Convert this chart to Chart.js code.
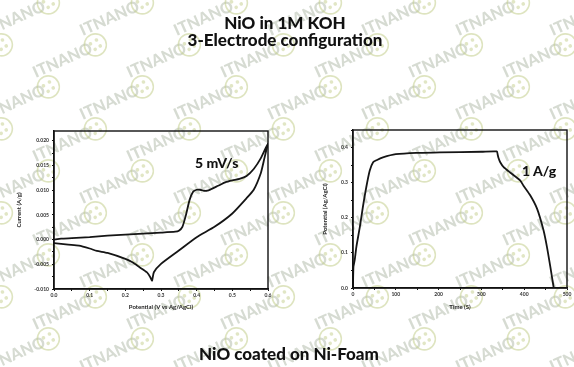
<!DOCTYPE html>
<html>
<head>
<meta charset="utf-8">
<script src="https://cdn.jsdelivr.net/npm/chart.js@4.4.1/dist/chart.umd.min.js"></script>
<style>
  body { margin: 0; background: #fff; font-family: Lato, 'Open Sans', sans-serif; }
  #page { position: relative; width: 574px; height: 367px; overflow: hidden; }
  #wm { position: absolute; left: 0; top: 0; }
  .box { position: absolute; }
  .title { position: absolute; left: 0; width: 574px; text-align: center; font-weight: 900; font-size: 17px; color: #111; line-height: 17px; }
  .note { position: absolute; font-weight: 900; color: #111; font-size: 14px; line-height: 14px; }
</style>
</head>
<body>
<div id="page">
  <canvas id="wm" width="574" height="367"></canvas>
  <div class="title" style="top:14px; left:-2px">NiO in 1M KOH</div>
  <div class="title" style="top:31px; left:-2px">3-Electrode configuration</div>
  <div class="title" style="top:345px; left:2px">NiO coated on Ni-Foam</div>
  <div class="box" style="left:0; top:118px; width:287px; height:197px"><canvas id="cv"></canvas></div>
  <div class="box" style="left:290px; top:118px; width:284px; height:197px"><canvas id="gcd"></canvas></div>
  <div class="note" style="left:195px; top:156px">5 mV/s</div>
  <div class="note" style="left:522px; top:164px">1 A/g</div>
</div>
<script>
// cyclic voltammetry, 5 mV/s (anodic sweep then cathodic sweep)
const cvForwardV = [0.0, 0.02, 0.05, 0.1, 0.15, 0.2, 0.25, 0.3, 0.34, 0.35, 0.36, 0.37, 0.38, 0.39, 0.40, 0.41, 0.42, 0.43, 0.44, 0.46, 0.48, 0.50, 0.52, 0.54, 0.56, 0.58, 0.60];
const cvForwardI = [0.0, 0.0002, 0.0003, 0.0005, 0.0008, 0.001, 0.0012, 0.0014, 0.0016, 0.0018, 0.0026, 0.005, 0.008, 0.0097, 0.0101, 0.0101, 0.0099, 0.0099, 0.0102, 0.0109, 0.0116, 0.012, 0.0123, 0.0129, 0.0143, 0.0165, 0.0195];
const cvReverseV = [0.59, 0.58, 0.56, 0.54, 0.50, 0.45, 0.40, 0.35, 0.30, 0.28, 0.275, 0.27, 0.26, 0.24, 0.22, 0.20, 0.15, 0.12, 0.10, 0.07, 0.04, 0.0];
const cvReverseI = [0.0165, 0.0135, 0.0101, 0.0084, 0.0053, 0.0026, 0.0005, -0.0022, -0.0049, -0.0066, -0.0083, -0.0076, -0.0066, -0.0056, -0.0046, -0.0039, -0.0027, -0.0023, -0.0018, -0.0012, -0.001, -0.0007];

// galvanostatic charge / discharge, 1 A/g
const gcdTime = [0, 1, 4, 8, 16, 23, 31, 39, 47, 55, 70, 100, 148, 203, 300, 336, 338, 340, 344, 352, 367, 391, 398, 414, 430, 445, 453, 461, 469];
const gcdPotential = [0, 0.06, 0.08, 0.118, 0.174, 0.23, 0.287, 0.334, 0.358, 0.364, 0.372, 0.381, 0.385, 0.386, 0.388, 0.389, 0.38, 0.37, 0.358, 0.344, 0.329, 0.306, 0.292, 0.264, 0.226, 0.165, 0.118, 0.061, 0];

const cvTicksX = [0, 0.1, 0.2, 0.3, 0.4, 0.5, 0.6];
const cvTicksY = [-0.010, -0.005, 0.000, 0.005, 0.010, 0.015, 0.020];
const gcdTicksX = [0, 100, 200, 300, 400, 500];
const gcdTicksY = [0.0, 0.1, 0.2, 0.3, 0.4];

// watermark tiles
const wm = document.getElementById('wm').getContext('2d');
for (let j = -1; j < 10; j++) {
    for (let i = -1; i < 7; i++) {
        const x = i * 94 + (j % 2 ? 47 : 0) + 10;
        const y = j * 42 + 20;
        wm.save();
        wm.translate(x, y);
        wm.rotate(-0.42);
        wm.font = '900 16px Lato';
        wm.fillStyle = 'rgba(140,155,130,0.36)';
        wm.fillText('ITNANO', -26, 6);
        wm.beginPath();
        wm.arc(42, 0, 11, 0, Math.PI * 2);
        wm.strokeStyle = 'rgba(195,205,140,0.55)';
        wm.lineWidth = 1.6;
        wm.stroke();
        wm.fillStyle = 'rgba(195,205,140,0.5)';
        [[-4, -3], [3, -4], [-2, 4], [4, 3]].forEach(p => {
            wm.beginPath();
            wm.arc(42 + p[0], p[1], 1.8, 0, Math.PI * 2);
            wm.fill();
        });
        wm.restore();
    }
}

const frame = {
    id: 'frame',
    afterDraw(chart) {
        const a = chart.chartArea, ctx = chart.ctx;
        ctx.save();
        ctx.strokeStyle = '#111';
        ctx.lineWidth = 1.4;
        ctx.strokeRect(a.left, a.top, a.right - a.left, a.bottom - a.top);
        ctx.restore();
    }
};

function isMajor(v, list) {
    return list.some(t => Math.abs(t - v) < 1e-9);
}

function axis(opts) {
    return {
        type: 'linear',
        min: opts.min,
        max: opts.max,
        afterFit: opts.fit,
        grid: { drawOnChartArea: false, drawTicks: true, tickLength: 2, color: '#111' },
        border: { display: true, color: '#111', width: 1.4 },
        ticks: {
            stepSize: opts.step,
            includeBounds: false,
            autoSkip: false,
            maxRotation: 0,
            padding: opts.pad,
            color: '#333',
            font: { size: 5, weight: 'bold', family: 'Lato' },
            callback: v => isMajor(v, opts.major) ? v.toFixed(opts.dec) : ''
        },
        title: {
            display: true,
            text: opts.title,
            color: '#222',
            font: { size: 6, weight: 'bold', family: 'Lato' },
            padding: opts.titlePad
        }
    };
}

function common(padding) {
    return {
        responsive: true,
        maintainAspectRatio: false,
        animation: false,
        layout: { padding: padding },
        plugins: { legend: { display: false }, tooltip: { enabled: false } },
        elements: { point: { radius: 0 } }
    };
}

const cvPoints = cvForwardV.map((v, k) => ({ x: v, y: cvForwardI[k] }))
    .concat(cvReverseV.map((v, k) => ({ x: v, y: cvReverseI[k] })));

new Chart(document.getElementById('cv'), {
    type: 'line',
    data: { datasets: [{ data: cvPoints, borderColor: '#151515', borderWidth: 1.8, tension: 0.2, fill: false }] },
    options: Object.assign(common({ left: 12, top: 13, right: 19, bottom: 0 }), {
        scales: {
            x: axis({ min: 0, max: 0.6, step: 0.05, major: cvTicksX, dec: 1, pad: 1, title: 'Potential (V vs Ag/AgCl)',
                titlePad: { top: 2, bottom: 4 }, fit: s => { s.height = 26; } }),
            y: axis({ min: -0.010, max: 0.022, step: 0.0025, major: cvTicksY, dec: 3, pad: 3, title: 'Current (A/g)',
                titlePad: { top: 3, bottom: 0 }, fit: s => { s.width = 42; } })
        }
    }),
    plugins: [frame]
});

const gcdPoints = gcdTime.map((t, k) => ({ x: t, y: gcdPotential[k] }));

new Chart(document.getElementById('gcd'), {
    type: 'line',
    data: { datasets: [{ data: gcdPoints, borderColor: '#151515', borderWidth: 1.8, tension: 0.2, fill: false }] },
    options: Object.assign(common({ left: 28, top: 12, right: 7, bottom: 0 }), {
        scales: {
            x: axis({ min: 0, max: 500, step: 50, major: gcdTicksX, dec: 0, pad: 1, title: 'Time (S)',
                titlePad: { top: 2, bottom: 4 }, fit: s => { s.height = 27; } }),
            y: axis({ min: 0, max: 0.45, step: 0.05, major: gcdTicksY, dec: 1, pad: 3, title: 'Potential (Ag/AgCl)',
                titlePad: { top: 3, bottom: 0 }, fit: s => { s.width = 35; } })
        }
    }),
    plugins: [frame]
});
</script>
</body>
</html>
